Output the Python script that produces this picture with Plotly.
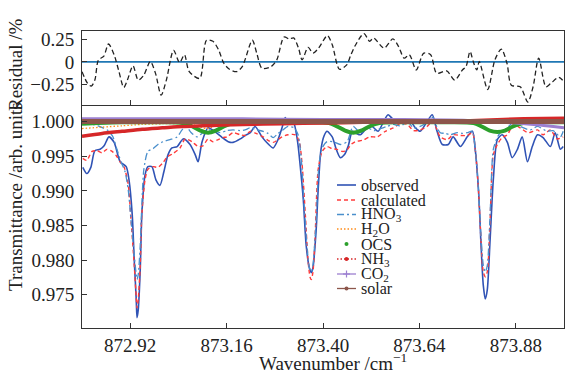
import plotly.graph_objects as go
from plotly.subplots import make_subplots

# ---------------- data ----------------
res_wn = [872.800, 872.814, 872.823, 872.832, 872.841, 872.854, 872.866, 872.880, 872.891, 872.904,
          872.913, 872.927, 872.940, 872.954, 872.970, 872.983, 872.997, 873.010, 873.028, 873.043,
          873.055, 873.067, 873.093, 873.110, 873.126, 873.140, 873.153, 873.167, 873.185, 873.199,
          873.224, 873.235, 873.248, 873.271, 873.285, 873.303, 873.316, 873.327, 873.339, 873.348,
          873.363, 873.375, 873.389, 873.411, 873.423, 873.441, 873.459, 873.468, 873.479, 873.502,
          873.516, 873.526, 873.552, 873.574, 873.588, 873.602, 873.615, 873.632, 873.651, 873.668,
          873.683, 873.708, 873.728, 873.747, 873.756, 873.766, 873.774, 873.783, 873.789, 873.810,
          873.828, 873.844, 873.858, 873.869, 873.891, 873.910, 873.923, 873.937, 873.955, 873.967,
          873.987, 874.000]
res_val = [-0.110, -0.243, -0.273, -0.205, 0.023, 0.061, 0.201, 0.080, -0.091, -0.288,
           -0.205, -0.045, -0.205, -0.148, 0.004, -0.129, -0.375, -0.205, 0.129, -0.008,
           0.080, -0.110, -0.186, 0.243, 0.231, 0.136, -0.015, -0.083, -0.110, -0.053,
           0.243, 0.099, -0.072, -0.053, 0.023, 0.280, 0.258, 0.269, 0.155, 0.023,
           0.163, 0.099, 0.155, 0.296, 0.193, -0.083, -0.034, 0.061, 0.174, 0.318,
           0.231, 0.269, 0.155, 0.258, 0.174, 0.042, 0.080, -0.091, 0.099, 0.080,
           -0.129, -0.102, -0.205, -0.091, -0.053, 0.117, 0.004, -0.091, 0.004, -0.311,
           0.023, 0.144, -0.015, -0.262, -0.280, -0.451, -0.280, 0.042, -0.280, -0.243,
           -0.174, -0.224]

obs_wn = [872.802, 872.812, 872.822, 872.832, 872.845, 872.855, 872.867, 872.880, 872.895, 872.910,
          872.917, 872.925, 872.930, 872.935, 872.937, 872.940, 872.945, 872.949, 872.957, 872.964,
          872.974, 872.984, 872.994, 873.004, 873.014, 873.024, 873.037, 873.052, 873.069, 873.082,
          873.089, 873.099, 873.114, 873.134, 873.149, 873.164, 873.176, 873.194, 873.206, 873.219,
          873.231, 873.248, 873.263, 873.276, 873.288, 873.298, 873.306, 873.313, 873.326, 873.336,
          873.343, 873.351, 873.358, 873.366, 873.371, 873.375, 873.383, 873.388, 873.395, 873.403,
          873.410, 873.423, 873.433, 873.443, 873.453, 873.463, 873.473, 873.483, 873.493, 873.505,
          873.522, 873.537, 873.550, 873.562, 873.575, 873.585, 873.600, 873.617, 873.630, 873.642,
          873.659, 873.672, 873.684, 873.697, 873.712, 873.724, 873.742, 873.759, 873.772, 873.779,
          873.787, 873.794, 873.799, 873.804, 873.809, 873.816, 873.824, 873.834, 873.846, 873.859,
          873.871, 873.884, 873.896, 873.909, 873.921, 873.934, 873.948, 873.966, 873.978, 873.991,
          873.998]
obs_tr = [0.9934, 0.9925, 0.9934, 0.9958, 0.9960, 0.9965, 0.9978, 0.9970, 0.9942, 0.9935,
          0.9916, 0.9866, 0.9801, 0.9743, 0.9717, 0.9728, 0.9786, 0.9866, 0.9923, 0.9935,
          0.9935, 0.9916, 0.9908, 0.9928, 0.9952, 0.9962, 0.9964, 0.9975, 0.9967, 0.9952,
          0.9942, 0.9971, 0.9991, 0.9984, 0.9977, 0.9971, 0.9970, 0.9975, 0.9980, 0.9984,
          0.9993, 0.9978, 0.9968, 0.9962, 0.9974, 0.9991, 1.0006, 0.9996, 0.9999, 0.9974,
          0.9938, 0.9887, 0.9822, 0.9789, 0.9782, 0.9789, 0.9844, 0.9902, 0.9960, 0.9980,
          0.9986, 0.9978, 0.9960, 0.9948, 0.9952, 0.9965, 0.9986, 0.9983, 0.9981, 0.9988,
          0.9993, 0.9986, 0.9999, 1.0010, 1.0003, 1.0000, 0.9999, 1.0001, 0.9991, 0.9986,
          1.0000, 1.0010, 0.9986, 0.9967, 0.9967, 0.9978, 0.9964, 0.9978, 0.9986, 0.9960,
          0.9902, 0.9815, 0.9764, 0.9744, 0.9757, 0.9829, 0.9916, 0.9974, 0.9981, 0.9970,
          0.9948, 0.9960, 0.9978, 0.9942, 0.9964, 0.9981, 0.9977, 0.9964, 0.9984, 0.9960,
          0.9964]

calc_wn = [872.802, 872.812, 872.825, 872.837, 872.850, 872.862, 872.875, 872.885, 872.895, 872.905,
           872.915, 872.922, 872.930, 872.935, 872.937, 872.940, 872.945, 872.949, 872.957, 872.964,
           872.977, 872.989, 873.002, 873.012, 873.027, 873.044, 873.057, 873.074, 873.089, 873.101,
           873.114, 873.126, 873.139, 873.151, 873.161, 873.176, 873.194, 873.206, 873.219, 873.233,
           873.251, 873.263, 873.276, 873.288, 873.298, 873.313, 873.331, 873.341, 873.348, 873.356,
           873.363, 873.368, 873.371, 873.375, 873.380, 873.388, 873.398, 873.410, 873.423, 873.435,
           873.448, 873.458, 873.470, 873.480, 873.498, 873.517, 873.535, 873.555, 873.575, 873.592,
           873.610, 873.625, 873.642, 873.659, 873.674, 873.684, 873.692, 873.709, 873.724, 873.742,
           873.759, 873.772, 873.779, 873.787, 873.794, 873.799, 873.804, 873.809, 873.816, 873.824,
           873.834, 873.846, 873.859, 873.874, 873.891, 873.911, 873.934, 873.948, 873.966, 873.983,
           873.998]
calc_tr = [0.9947, 0.9944, 0.9957, 0.9958, 0.9955, 0.9960, 0.9957, 0.9951, 0.9942, 0.9934,
           0.9909, 0.9858, 0.9793, 0.9746, 0.9731, 0.9743, 0.9793, 0.9866, 0.9916, 0.9931,
           0.9935, 0.9934, 0.9941, 0.9949, 0.9954, 0.9962, 0.9975, 0.9971, 0.9964, 0.9965,
           0.9975, 0.9971, 0.9974, 0.9977, 0.9978, 0.9984, 0.9981, 0.9980, 0.9986, 0.9983,
           0.9978, 0.9973, 0.9970, 0.9974, 0.9978, 0.9981, 0.9981, 0.9971, 0.9938, 0.9866,
           0.9798, 0.9775, 0.9772, 0.9783, 0.9829, 0.9931, 0.9957, 0.9964, 0.9961, 0.9960,
           0.9957, 0.9958, 0.9967, 0.9971, 0.9973, 0.9978, 0.9978, 0.9986, 0.9991, 0.9997,
           0.9996, 0.9987, 0.9988, 0.9993, 1.0001, 0.9988, 0.9978, 0.9974, 0.9981, 0.9980,
           0.9980, 0.9984, 0.9960, 0.9902, 0.9822, 0.9783, 0.9776, 0.9783, 0.9858, 0.9952,
           0.9967, 0.9977, 0.9981, 0.9996, 0.9991, 0.9984, 0.9988, 0.9981, 0.9988, 0.9975,
           0.9978]

hno3_wn = [872.802, 872.815, 872.827, 872.840, 872.852, 872.865, 872.877, 872.887, 872.897, 872.907,
           872.915, 872.922, 872.930, 872.935, 872.937, 872.940, 872.945, 872.949, 872.954, 872.964,
           872.977, 872.989, 873.002, 873.019, 873.037, 873.049, 873.059, 873.072, 873.086, 873.101,
           873.114, 873.129, 873.144, 873.161, 873.176, 873.194, 873.206, 873.219, 873.236, 873.251,
           873.263, 873.276, 873.288, 873.298, 873.313, 873.328, 873.338, 873.346, 873.353, 873.361,
           873.366, 873.371, 873.375, 873.383, 873.390, 873.398, 873.410, 873.425, 873.443, 873.460,
           873.475, 873.493, 873.510, 873.527, 873.542, 873.560, 873.575, 873.592, 873.612, 873.625,
           873.642, 873.659, 873.674, 873.684, 873.692, 873.704, 873.717, 873.734, 873.747, 873.759,
           873.772, 873.779, 873.787, 873.794, 873.799, 873.804, 873.809, 873.816, 873.824, 873.834,
           873.841, 873.859, 873.874, 873.891, 873.916, 873.934, 873.958, 873.973, 873.991, 873.998]
hno3_tr = [0.9997, 0.9997, 0.9996, 0.9994, 0.9991, 0.9987, 0.9978, 0.9960, 0.9942, 0.9928,
           0.9902, 0.9858, 0.9808, 0.9779, 0.9772, 0.9779, 0.9822, 0.9880, 0.9931, 0.9957,
           0.9961, 0.9967, 0.9971, 0.9974, 0.9978, 0.9988, 0.9993, 0.9984, 0.9978, 0.9984,
           0.9988, 0.9987, 0.9984, 0.9987, 0.9988, 0.9987, 0.9988, 0.9991, 0.9988, 0.9986,
           0.9983, 0.9977, 0.9983, 0.9987, 0.9993, 0.9991, 0.9981, 0.9945, 0.9880, 0.9815,
           0.9789, 0.9783, 0.9793, 0.9858, 0.9938, 0.9962, 0.9971, 0.9971, 0.9967, 0.9971,
           0.9993, 0.9984, 0.9991, 0.9987, 0.9990, 0.9993, 0.9996, 0.9994, 0.9999, 0.9991,
           0.9993, 0.9999, 1.0006, 0.9991, 0.9984, 0.9983, 0.9981, 0.9984, 0.9983, 0.9984,
           0.9986, 0.9960, 0.9902, 0.9829, 0.9793, 0.9783, 0.9792, 0.9866, 0.9960, 0.9977,
           0.9984, 0.9991, 0.9999, 0.9993, 0.9988, 0.9993, 0.9986, 0.9987, 0.9978, 0.9986]

h2o_wn = [872.80, 872.85, 872.90, 872.95, 873.00, 873.05, 873.08, 873.11, 873.14, 873.20,
          873.30, 873.40, 873.50, 873.60, 873.70, 873.80, 873.90, 874.00]
h2o_tr = [0.9990, 0.9992, 0.9994, 0.9996, 0.9997, 0.9997, 0.9995, 0.9990, 0.9995, 0.9998,
          0.9999, 0.9999, 0.9999, 0.9999, 0.9999, 0.9999, 0.9999, 0.9999]

ocs_wn = [872.800, 872.840, 872.900, 873.000, 873.050, 873.075, 873.095, 873.114, 873.133, 873.153,
          873.178, 873.250, 873.350, 873.415, 873.435, 873.455, 873.475, 873.495, 873.515, 873.540,
          873.600, 873.700, 873.775, 873.795, 873.815, 873.834, 873.853, 873.873, 873.898, 873.950,
          874.000]
ocs_tr = [0.9997, 0.9998, 0.9999, 0.9999, 0.9998, 0.9993, 0.9987, 0.9984, 0.9987, 0.9993,
          0.9998, 0.9999, 0.9999, 0.9998, 0.9993, 0.9987, 0.9984, 0.9987, 0.9993, 0.9998,
          0.9999, 0.9999, 0.9998, 0.9993, 0.9987, 0.9985, 0.9987, 0.9993, 0.9998, 0.9999,
          0.9999]

nh3_wn = [872.80, 872.85, 872.90, 872.95, 873.00, 873.05, 873.10, 873.15, 873.20, 873.30,
          873.40, 873.50, 873.60, 873.70, 873.80, 873.90, 874.00]
nh3_tr = [0.9979, 0.9983, 0.9986, 0.9989, 0.9991, 0.9993, 0.9994, 0.9995, 0.9996, 0.9997,
          0.9998, 0.9999, 0.9999, 1.0000, 1.0002, 1.0004, 1.0005]

co2_wn = [872.80, 873.00, 873.20, 873.40, 873.60, 873.75, 873.82, 873.88, 873.94, 874.00]
co2_tr = [1.0004, 1.0004, 1.0004, 1.0003, 1.0003, 1.0002, 1.0000, 0.9998, 0.9995, 0.9991]

sol_wn = [872.80, 873.00, 873.20, 873.40, 873.60, 873.80, 874.00]
sol_tr = [1.0000, 1.0000, 1.0000, 1.0000, 1.0000, 1.0000, 1.0000]

x_tick_vals = [872.92, 873.16, 873.40, 873.64, 873.88]
x_tick_text = ["872.92", "873.16", "873.40", "873.64", "873.88"]
res_tick_vals = [-0.25, 0, 0.25]
res_tick_text = ["\u22120.25", "0", "0.25"]
tr_tick_vals = [0.975, 0.980, 0.985, 0.990, 0.995, 1.000]
tr_tick_text = ["0.975", "0.980", "0.985", "0.990", "0.995", "1.000"]
legend_names = ["observed", "calculated", "HNO<sub>3</sub>", "H<sub>2</sub>O", "OCS",
                "NH<sub>3</sub>", "CO<sub>2</sub>", "solar"]

# ---------------- styles ----------------
FONT = "Liberation Serif"
TXT = "#222222"
C_OBS = "#3053b5"
C_CALC = "#ff3b3b"
C_HNO3 = "#4a8fcc"
C_H2O = "#ff8c1a"
C_OCS = "#2ca02c"
C_NH3 = "#d62728"
C_CO2 = "#9c7fd0"
C_SOL = "#8c564b"

fig = make_subplots(rows=2, cols=1, shared_xaxes=True, vertical_spacing=0,
                    row_heights=[74 / 297, 223 / 297])

# residual panel
fig.add_trace(go.Scatter(x=res_wn, y=res_val, mode="lines",
                         line=dict(color="#222222", width=1.3, dash="5px,3px", shape="spline", smoothing=0.8),
                         showlegend=False), row=1, col=1)

# transmittance panel
spl = dict(shape="spline", smoothing=0.7)
fig.add_trace(go.Scatter(x=obs_wn, y=obs_tr, mode="lines", name="observed",
                         line=dict(color=C_OBS, width=1.6, **spl), showlegend=False), row=2, col=1)
fig.add_trace(go.Scatter(x=calc_wn, y=calc_tr, mode="lines", name="calculated",
                         line=dict(color=C_CALC, width=1.4, dash="4px,3px", **spl), showlegend=False), row=2, col=1)
fig.add_trace(go.Scatter(x=hno3_wn, y=hno3_tr, mode="lines", name="HNO3",
                         line=dict(color=C_HNO3, width=1.3, dash="7px,3px,2px,3px", **spl), showlegend=False), row=2, col=1)
fig.add_trace(go.Scatter(x=h2o_wn, y=h2o_tr, mode="lines", name="H2O",
                         line=dict(color=C_H2O, width=1.3, dash="1.5px,2px", **spl), showlegend=False), row=2, col=1)
fig.add_trace(go.Scatter(x=ocs_wn, y=ocs_tr, mode="lines", name="OCS",
                         line=dict(color=C_OCS, width=4, **spl), showlegend=False), row=2, col=1)
fig.add_trace(go.Scatter(x=nh3_wn, y=nh3_tr, mode="lines", name="NH3",
                         line=dict(color=C_NH3, width=3.5, **spl), showlegend=False), row=2, col=1)
fig.add_trace(go.Scatter(x=co2_wn, y=co2_tr, mode="lines", name="CO2",
                         line=dict(color=C_CO2, width=3, **spl), showlegend=False), row=2, col=1)
fig.add_trace(go.Scatter(x=sol_wn, y=sol_tr, mode="lines", name="solar",
                         line=dict(color=C_SOL, width=5, **spl), showlegend=False), row=2, col=1)

axis_common = dict(showline=True, linecolor="#333333", linewidth=1,
                   ticks="inside", ticklen=5, tickcolor="#333333", showgrid=False, zeroline=False,
                   tickfont=dict(family=FONT, size=19, color=TXT))

fig.update_xaxes(range=[872.80, 874.00], tickvals=x_tick_vals, ticktext=x_tick_text, **axis_common)
fig.update_xaxes(showticklabels=False, mirror=True, row=1, col=1)
fig.update_xaxes(mirror=False, row=2, col=1)
fig.update_yaxes(range=[-0.485, 0.347], tickvals=res_tick_vals, ticktext=res_tick_text, mirror=True,
                 ticklabelstandoff=3, row=1, col=1, **axis_common)
fig.update_yaxes(range=[0.9702, 1.0024], tickvals=tr_tick_vals, ticktext=tr_tick_text, mirror=True,
                 ticklabelstandoff=3, row=2, col=1, **axis_common)

# ---------------- zero line + manual legend ----------------
PW, PH = 482.0, 297.0
def px_x(p):
    return (p - 82) / PW
def px_y(p):
    return (328 - p) / PH

shapes = [dict(type="line", xref="x domain", yref="y", x0=0, x1=1, y0=0, y1=0,
               line=dict(color="#1f77b4", width=1.6), layer="below")]
annotations = []

leg_rows = [185, 200, 214.5, 229, 244, 259, 274, 288.5]
lx0, lx1, ltx = px_x(337), px_x(356), px_x(360)
lxc = (lx0 + lx1) / 2
leg_styles = [
    dict(color=C_OBS, dash="solid", width=1.6, marker=None),
    dict(color=C_CALC, dash="4px,3px", width=1.4, marker=None),
    dict(color=C_HNO3, dash="7px,3px,2px,3px", width=1.3, marker=None),
    dict(color=C_H2O, dash="1.5px,2px", width=1.3, marker=None),
    dict(color=None, dash=None, width=0, marker=("dot", C_OCS)),
    dict(color=C_NH3, dash="1.5px,2px", width=1.3, marker=("dot", C_NH3)),
    dict(color=C_CO2, dash="solid", width=1.3, marker=("plus", C_CO2)),
    dict(color=C_SOL, dash="solid", width=1.3, marker=("dot", C_SOL)),
]
for name, st, ry in zip(legend_names, leg_styles, leg_rows):
    yy = px_y(ry)
    if st["color"] is not None:
        shapes.append(dict(type="line", xref="paper", yref="paper", x0=lx0, x1=lx1, y0=yy, y1=yy,
                           line=dict(color=st["color"], width=st["width"], dash=st["dash"])))
    if st["marker"] is not None:
        kind, mc = st["marker"]
        if kind == "dot":
            shapes.append(dict(type="circle", xref="paper", yref="paper", xsizemode="pixel",
                               ysizemode="pixel", xanchor=lxc, yanchor=yy, x0=-2, x1=2, y0=-2, y1=2,
                               fillcolor=mc, line=dict(width=0)))
        else:
            shapes.append(dict(type="line", xref="paper", yref="paper", xsizemode="pixel",
                               ysizemode="pixel", xanchor=lxc, yanchor=yy, x0=-3.5, x1=3.5, y0=0, y1=0,
                               line=dict(color=mc, width=1.2)))
            shapes.append(dict(type="line", xref="paper", yref="paper", xsizemode="pixel",
                               ysizemode="pixel", xanchor=lxc, yanchor=yy, x0=0, x1=0, y0=-3.5, y1=3.5,
                               line=dict(color=mc, width=1.2)))
    annotations.append(dict(text=name, xref="paper", yref="paper", x=ltx, y=yy, xanchor="left",
                            yanchor="middle", showarrow=False, borderpad=0,
                            font=dict(family=FONT, size=16, color=TXT)))

# axis titles as annotations
annotations.append(dict(text="Residual /%", xref="paper", yref="paper", x=px_x(15), y=px_y(65),
                        textangle=-90, xanchor="center", yanchor="middle", showarrow=False, borderpad=0,
                        font=dict(family=FONT, size=19, color=TXT)))
annotations.append(dict(text="Transmittance /arb. units", xref="paper", yref="paper", x=px_x(15),
                        y=px_y(197), textangle=-90, xanchor="center", yanchor="middle", showarrow=False,
                        borderpad=0, font=dict(family=FONT, size=19, color=TXT)))
annotations.append(dict(text="Wavenumber /cm<sup>\u22121</sup>", xref="paper", yref="paper",
                        x=px_x(333), y=px_y(362), xanchor="center", yanchor="middle", showarrow=False,
                        borderpad=0, font=dict(family=FONT, size=19, color=TXT)))

fig.update_layout(width=567, height=374, margin=dict(l=82, r=3, t=31, b=46),
                  paper_bgcolor="white", plot_bgcolor="white",
                  shapes=shapes, annotations=annotations,
                  showlegend=False, font=dict(family=FONT, color=TXT))

fig.write_html("out.html")
